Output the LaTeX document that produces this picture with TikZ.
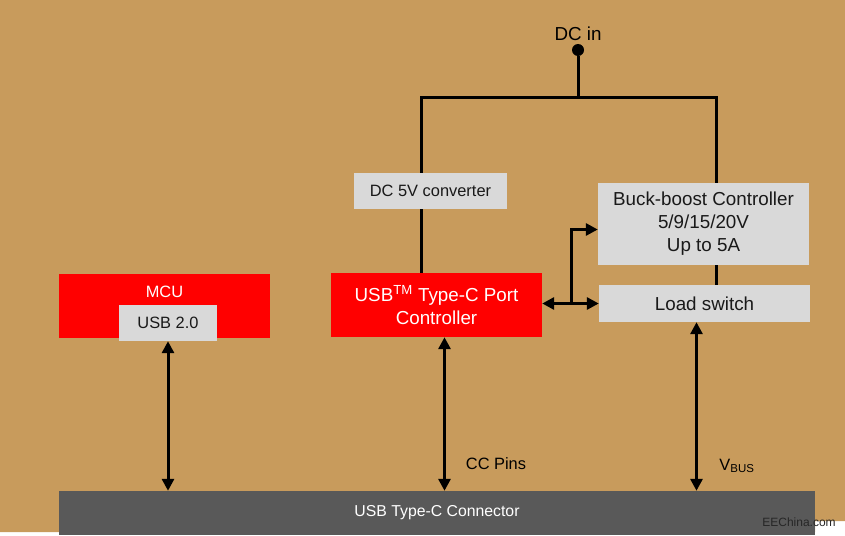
\documentclass[tikz,border=0pt]{standalone}
\usepackage{fontspec}
\setmainfont{Liberation Sans}
\usetikzlibrary{arrows.meta, positioning}
\pgfdeclarelayer{background}
\pgfsetlayers{background,main}
\definecolor{bgtan}{RGB}{200,155,92}
\definecolor{boxgray}{RGB}{217,217,217}
\definecolor{conngray}{RGB}{89,89,89}
\definecolor{ctrlred}{RGB}{255,0,0}

\begin{document}
\begin{tikzpicture}[x=1pt, y=-1pt,
    gbox/.style={rectangle, fill=boxgray, inner sep=0pt, text=black!90, align=center},
    rbox/.style={rectangle, fill=ctrlred, inner sep=0pt, text=white, align=center},
    big/.style={font=\fontsize{18.8}{23}\selectfont},
    small/.style={font=\fontsize{16.4}{19}\selectfont},
    wire/.style={line width=3pt},
    arrow/.style={wire, ->, >={Triangle[length=12pt,width=12pt]}}]
    \useasboundingbox (0,0) rectangle (845,535);

    % blocks
    \node [gbox, small, minimum width=153, minimum height=36] (conv) at (430.5,191) {DC 5V converter};
    \node [gbox, big, minimum width=211, minimum height=82] (buck) at (703.5,223.5) {Buck-boost Controller\\5/9/15/20V\\Up to 5A};
    \node [gbox, big, minimum width=211, minimum height=37] (load) at (704.5,303.5) {Load switch};
    \node [rbox, big, minimum width=211, minimum height=64] (port) at (436.5,305) {USB\textsuperscript{TM} Type-C Port\\Controller};
    \node [rbox, minimum width=211, minimum height=64] (mcu) at (164.5,306) {};
    \node [small, text=white] (mcuname) at ([yshift=-18pt]mcu.north) {MCU};
    \node [gbox, small, minimum width=98, minimum height=36] (usb2) at (168,323) {USB 2.0};
    \node [rectangle, fill=conngray, text=white, font=\fontsize{15.8}{19}\selectfont, minimum width=756, minimum height=44] (conn) at (437,513) {USB Type-C Connector};

    % power input
    \node [circle, fill=black, inner sep=0pt, minimum size=12] (dcin) at (578,50) {};
    \node [big] (dcinname) at (578,34) {DC in};
    \coordinate (bus) at (578,97);
    \coordinate (lft) at (421,97);
    \coordinate (rgt) at (716,97);
    \draw [wire] (dcin) -- (bus);
    \begin{pgfonlayer}{background}
        \fill [bgtan] (0,0) -- (845,0) -- (845,521) -- (815,521) -- (815,532) -- (0,532) -- cycle;
        \draw [wire] (port.north -| lft) -- (lft) -- (rgt) -- (load.north -| rgt);
    \end{pgfonlayer}

    % signals
    \coordinate (fork) at ([xshift=29]port.east |- load);
    \draw [arrow, <->] (port.east |- load) -- (load.west);
    \draw [arrow] (fork) |- ([yshift=-6pt]buck.west);
    \draw [arrow, <->] (usb2.south) -- (usb2.south |- conn.north);
    \draw [arrow, <->] ([xshift=8]port.south) -- ([xshift=8]port.south |- conn.north);
    \draw [arrow, <->] ([xshift=-8]load.south) -- ([xshift=-8]load.south |- conn.north);

    \node [small] (ccpins) at (496,464) {CC Pins};
    \node [small] (vbus) at (737,466) {V\textsubscript{BUS}};
    \node [font=\fontsize{12}{14}\selectfont, text=black!85] (mark) at (799,522) {EEChina.com};
\end{tikzpicture}
\end{document}
